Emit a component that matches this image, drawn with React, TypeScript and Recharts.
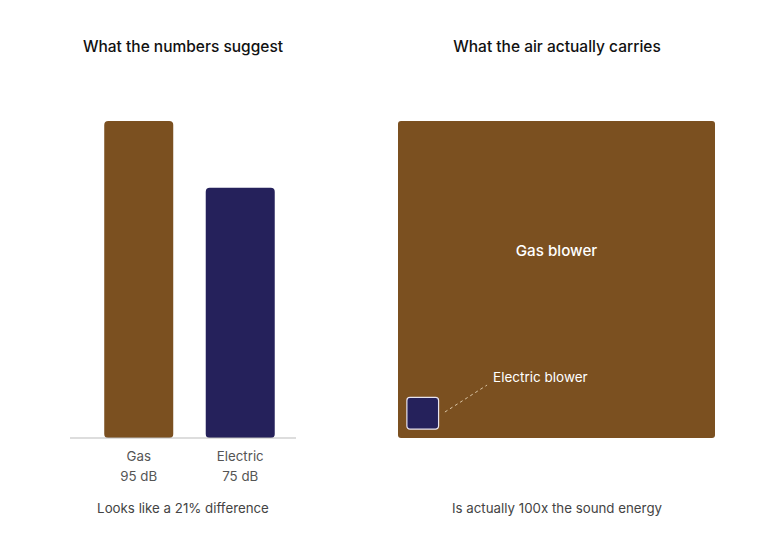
import React from 'react'
import {
  BarChart, Bar, XAxis, YAxis, ComposedChart, ReferenceArea,
  ReferenceDot, ReferenceLine, Rectangle, Cell
} from 'recharts'

// left panel: what the decibel numbers suggest
const sources = ['Gas', 'Electric']
const decibels = [95, 75]
// right panel: relative sound energy (gas = 100x electric)
const blowers = ['Gas blower', 'Electric blower']
const soundEnergy = [100, 1]

const BROWN = '#7b5020'
const NAVY = '#25215b'
const COLORS = [BROWN, NAVY]
const FONT = 'Inter, "Noto Sans", sans-serif'

const barData = sources.map((name, i) => ({ name, db: decibels[i] }))
// square side ~ sqrt(energy) so the area carries the energy
const sides = soundEnergy.map(e => Math.sqrt(e))

function DbTick({ x, y, payload, index }: any) {
  return (
    <g>
      <text x={x} y={y + 15} textAnchor="middle" fontSize={13.3} fill="#555" fontFamily={FONT}>
        {payload.value}
      </text>
      <text x={x} y={y + 35} textAnchor="middle" fontSize={13.3} fill="#555" fontFamily={FONT}>
        {decibels[index]} dB
      </text>
    </g>
  )
}

const roundedSquare = (props: any) => <Rectangle {...props} radius={3} />

export default function App() {
  const big = sides[0]
  const small = sides[1]
  const inset = 0.28
  return (
    <div style={{ position: 'absolute', left: 0, top: 0, width: 771, height: 539, background: '#fff', fontFamily: FONT }}>
      <div style={{ position: 'absolute', left: 0, width: 366, top: 37, textAlign: 'center', fontSize: 15.5, fontWeight: 500, color: '#111' }}>
        What the numbers suggest
      </div>
      <div style={{ position: 'absolute', left: 374, width: 366, top: 37, textAlign: 'center', fontSize: 15.5, fontWeight: 500, color: '#111' }}>
        What the air actually carries
      </div>

      <div style={{ position: 'absolute', left: 0, top: 0 }}>
        <BarChart width={380} height={539} data={barData}
          margin={{ top: 121, bottom: 41, left: 70, right: 84 }} barCategoryGap="16%">
          <XAxis dataKey="name" stroke="#bbb" tickLine={false} tick={<DbTick />}
            padding={{ left: 18, right: 5 }} interval={0} height={60} />
          <YAxis hide domain={[0, 95]} />
          <Bar dataKey="db" isAnimationActive={false} radius={[4, 4, 4, 4]}>
            {barData.map((d, i) => <Cell key={d.name} fill={COLORS[i]} />)}
          </Bar>
        </BarChart>
      </div>

      <div style={{ position: 'absolute', left: 380, top: 0 }}>
        <ComposedChart width={391} height={539} data={[{ x: 0, y: 0 }]}
          margin={{ top: 121, bottom: 101, left: 18, right: 56 }}>
          <XAxis type="number" dataKey="x" domain={[0, big]} hide allowDataOverflow />
          <YAxis type="number" dataKey="y" domain={[0, big]} hide allowDataOverflow />
          <ReferenceArea x1={0} x2={big} y1={0} y2={big} fill={BROWN} fillOpacity={1}
            stroke="none" ifOverflow="visible" shape={roundedSquare} />
          <ReferenceArea x1={inset} x2={inset + small} y1={inset} y2={inset + small}
            fill={NAVY} fillOpacity={1} stroke="#e8e4f0" strokeWidth={1.2}
            ifOverflow="visible" shape={roundedSquare} />
          <ReferenceLine segment={[{ x: 1.48, y: 0.82 }, { x: 2.81, y: 1.67 }]}
            stroke="#d9c4a4" strokeDasharray="3 3" strokeWidth={1} ifOverflow="visible" />
          <ReferenceDot x={big / 2} y={5.9} r={0} ifOverflow="visible"
            label={{ value: blowers[0], position: 'center', fill: '#fff', fontSize: 15.2, fontWeight: 500, fontFamily: FONT }} />
          <ReferenceDot x={3.0} y={1.92} r={0} ifOverflow="visible"
            label={{ value: blowers[1], position: 'right', offset: 0, fill: '#fff', fontSize: 13.5, fontFamily: FONT }} />
        </ComposedChart>
      </div>

      <div style={{ position: 'absolute', left: 0, width: 366, top: 500, textAlign: 'center', fontSize: 13.3, color: '#444' }}>
        Looks like a 21% difference
      </div>
      <div style={{ position: 'absolute', left: 374, width: 366, top: 500, textAlign: 'center', fontSize: 13.3, color: '#444' }}>
        Is actually 100x the sound energy
      </div>
    </div>
  )
}
